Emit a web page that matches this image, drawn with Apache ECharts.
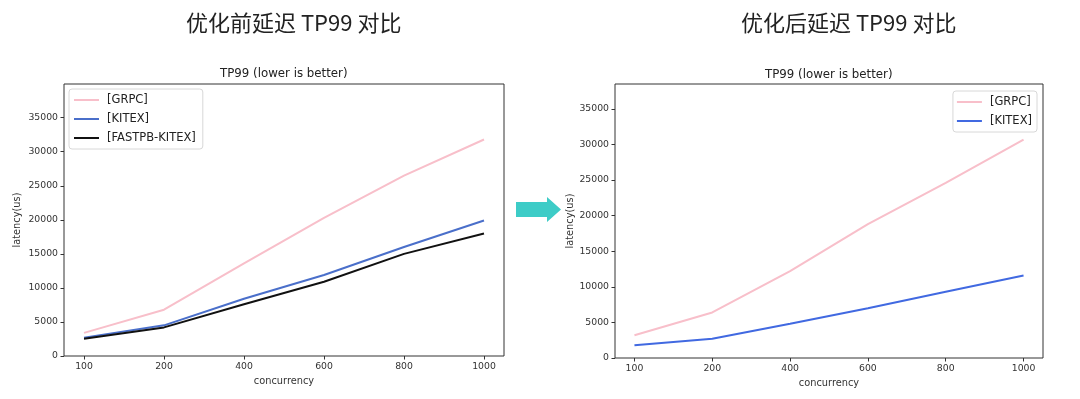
<!DOCTYPE html>
<html>
<head>
<meta charset="utf-8">
<script src="https://cdn.jsdelivr.net/npm/echarts@6/dist/echarts.min.js"></script>
<style>
  html, body { margin: 0; padding: 0; background: #fff; }
  #main { width: 1080px; height: 399px; }
</style>
</head>
<body>
<div id="main"></div>
<script>
// concurrency levels (drawn evenly spaced, like the original plot)
const concurrency = ['100', '200', '400', '600', '800', '1000']
const yTicks = [0, 5000, 10000, 15000, 20000, 25000, 30000, 35000]

// before optimisation, TP99 latency (us)
const grpcBefore = [3400, 6800, 13600, 20300, 26500, 31800]
const kitexBefore = [2700, 4500, 8400, 11900, 16000, 19900]
const fastpbBefore = [2550, 4200, 7600, 10900, 15000, 18000]

// after optimisation
const grpcAfter = [3200, 6400, 12200, 18800, 24600, 30700]
const kitexAfter = [1800, 2700, 4800, 7000, 9300, 11600]

const PINK = '#f8bfca'
const BLUE_L = '#4a6fca'
const BLUE_R = '#4169e1'
const BLACK = '#111111'
const AXIS = '#333333'
const FONT = 'DejaVu Sans'

const toPairs = (arr) => arr.map((v, i) => [i, v])

function makeX(gridIndex, nameGap) {
  return {
    gridIndex: gridIndex,
    type: 'value',
    min: -0.25,
    max: 5.25,
    name: 'concurrency',
    nameLocation: 'middle',
    nameGap: nameGap,
    nameTextStyle: { fontFamily: FONT, fontSize: 9.8, color: AXIS },
    axisLine: { show: false, onZero: false },
    splitLine: { show: false },
    axisTick: { show: true, length: 3.5, lineStyle: { color: AXIS }, customValues: [0, 1, 2, 3, 4, 5] },
    axisLabel: {
      customValues: [0, 1, 2, 3, 4, 5],
      formatter: (v) => concurrency[Math.round(v)],
      fontFamily: FONT, fontSize: 9.3, color: AXIS, margin: 6
    }
  }
}

function makeY(gridIndex, max, nameGap) {
  return {
    gridIndex: gridIndex,
    type: 'value',
    min: 0,
    max: max,
    name: 'latency(us)',
    nameLocation: 'middle',
    nameGap: nameGap,
    nameTextStyle: { fontFamily: FONT, fontSize: 9.8, color: AXIS },
    axisLine: { show: false, onZero: false },
    splitLine: { show: false },
    axisTick: { show: true, length: 3.5, lineStyle: { color: AXIS }, customValues: yTicks },
    axisLabel: { customValues: yTicks, formatter: (v) => String(v),
      fontFamily: FONT, fontSize: 9.3, color: AXIS, margin: 6 }
  }
}

function makeLine(name, data, color, idx) {
  return {
    name: name,
    type: 'line',
    xAxisIndex: idx,
    yAxisIndex: idx,
    data: toPairs(data),
    showSymbol: false,
    symbol: 'none',
    animation: false,
    lineStyle: { color: color, width: 2 },
    itemStyle: { color: color }
  }
}

const legendBase = {
  orient: 'vertical',
  icon: 'rect',
  itemWidth: 25,
  itemHeight: 2,
  itemGap: 5,
  borderColor: '#d8d8d8',
  borderWidth: 1,
  borderRadius: 3,
  backgroundColor: '#ffffff',
  textStyle: { fontFamily: FONT, fontSize: 11.5, color: '#222', lineHeight: 14, padding: [0, 0, 0, 3] },
  selectedMode: false
}

const cnTitle = { fontFamily: 'Noto Sans CJK SC', fontSize: 22, fontWeight: 'normal', color: '#222' }
const subTitle = { fontFamily: FONT, fontSize: 11.8, fontWeight: 'normal', color: '#222' }

const chart = echarts.init(document.getElementById('main'))
chart.setOption({
  backgroundColor: '#ffffff',
  animation: false,
  title: [
    { text: '优化前延迟 TP99 对比', left: 186, top: 12, padding: 0, textStyle: cnTitle },
    { text: '优化后延迟 TP99 对比', left: 741, top: 12, padding: 0, textStyle: cnTitle },
    { text: 'TP99 (lower is better)', left: 220, top: 68, padding: 0, textStyle: subTitle },
    { text: 'TP99 (lower is better)', left: 765, top: 69, padding: 0, textStyle: subTitle }
  ],
  legend: [
    Object.assign({}, legendBase, {
      left: 69, top: 89, padding: [4, 7, 4, 5],
      data: ['[GRPC]', '[KITEX]', '[FASTPB-KITEX]']
    }),
    Object.assign({}, legendBase, {
      right: 43, top: 91, padding: [4, 5, 4, 4],
      data: ['[GRPC]', { name: '[KITEX]', itemStyle: { color: BLUE_R } }]
    })
  ],
  grid: [
    { left: 64, right: 576, top: 84, bottom: 43, show: true, borderColor: AXIS, borderWidth: 1,
      backgroundColor: 'transparent', outerBoundsMode: 'none' },
    { left: 615, right: 37, top: 84, bottom: 41, show: true, borderColor: AXIS, borderWidth: 1,
      backgroundColor: 'transparent', outerBoundsMode: 'none' }
  ],
  xAxis: [makeX(0, 20), makeX(1, 20)],
  yAxis: [makeY(0, 39950, 42), makeY(1, 38500, 40)],
  series: [
    makeLine('[GRPC]', grpcBefore, PINK, 0),
    makeLine('[KITEX]', kitexBefore, BLUE_L, 0),
    makeLine('[FASTPB-KITEX]', fastpbBefore, BLACK, 0),
    makeLine('[GRPC]', grpcAfter, PINK, 1),
    makeLine('[KITEX]', kitexAfter, BLUE_R, 1)
  ],
  graphic: [
    {
      // the arrow between the two panels
      type: 'polygon',
      shape: { points: [[516, 202], [547, 202], [547, 197], [561, 209.5], [547, 222], [547, 217], [516, 217]] },
      style: { fill: '#3dccc7' }
    }
  ]
})
</script>
</body>
</html>
